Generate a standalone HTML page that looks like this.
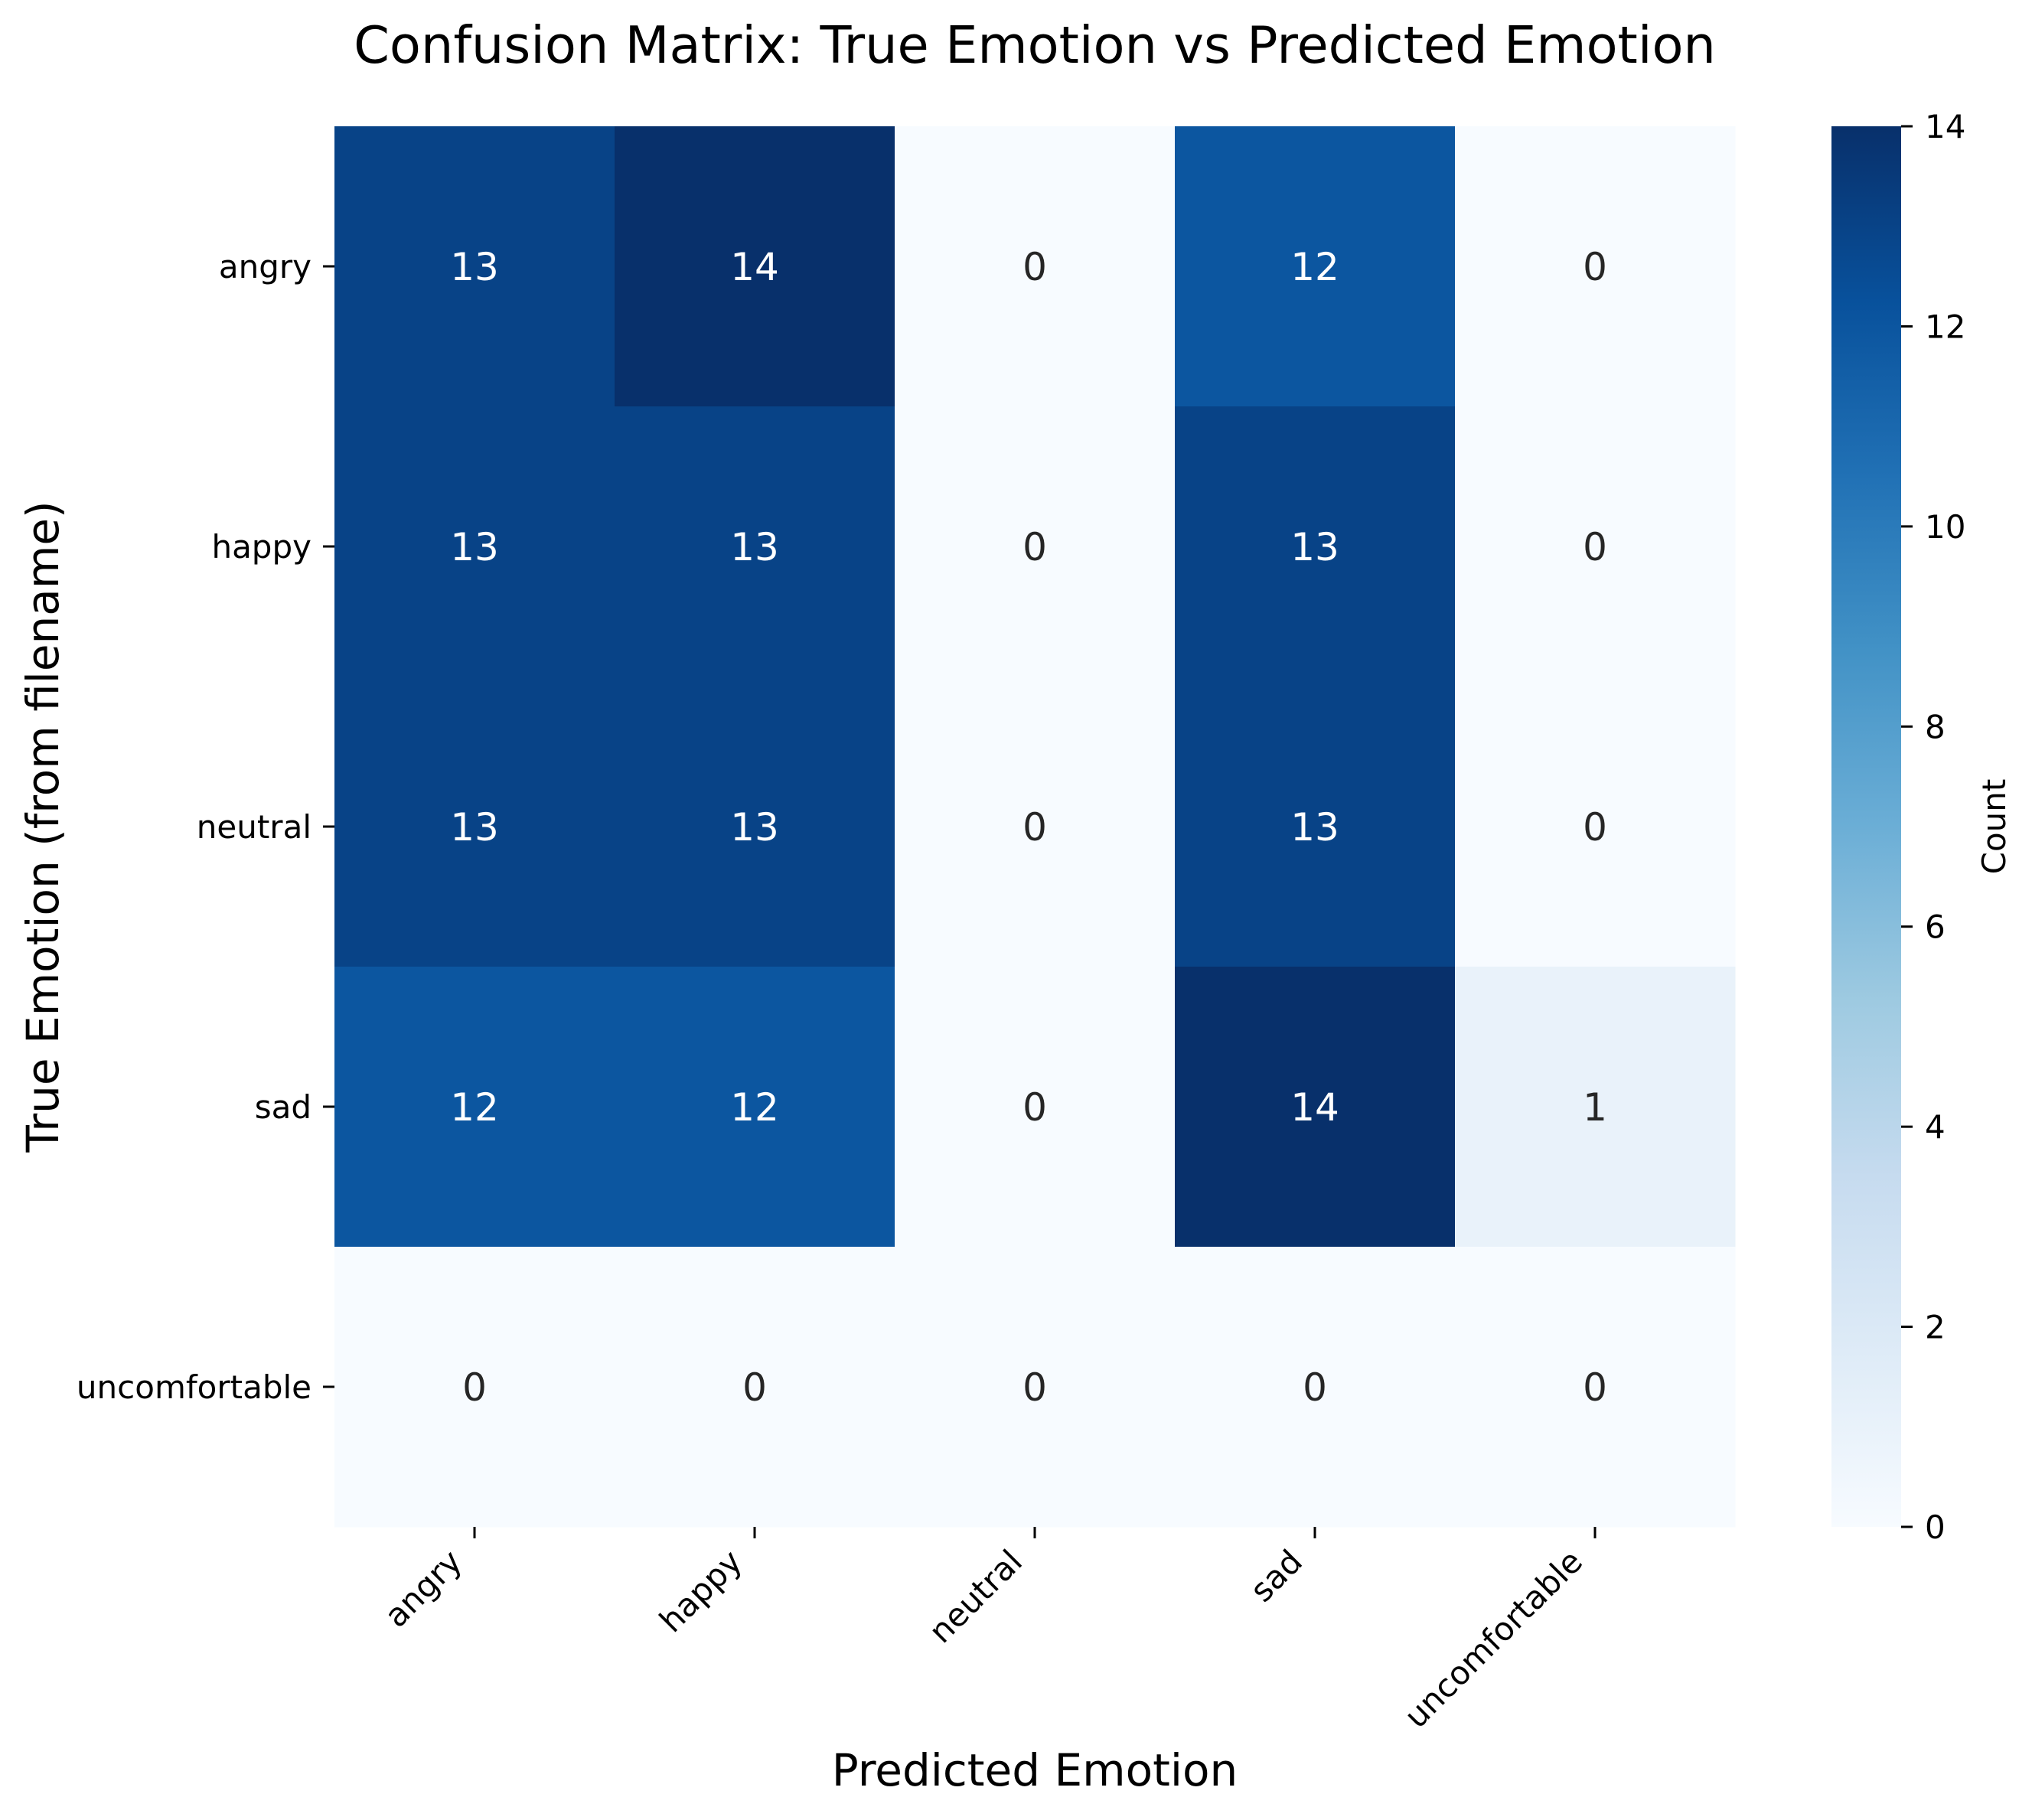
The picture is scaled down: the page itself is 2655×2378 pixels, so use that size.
<!DOCTYPE html>
<html><head><meta charset="utf-8"><style>
html,body{margin:0;padding:0;background:#fff;}
svg text{font-family:"DejaVu Sans","Liberation Sans",sans-serif;}
</style></head><body>
<svg id="chart" width="2655" height="2373" xmlns="http://www.w3.org/2000/svg">
<defs>
<linearGradient id="blues" x1="0" y1="1" x2="0" y2="0">
<stop offset="0" stop-color="#f7fbff"/><stop offset="0.125" stop-color="#deebf7"/><stop offset="0.25" stop-color="#c6dbef"/><stop offset="0.375" stop-color="#9ecae1"/><stop offset="0.5" stop-color="#6baed6"/><stop offset="0.625" stop-color="#4292c6"/><stop offset="0.75" stop-color="#2171b5"/><stop offset="0.875" stop-color="#08519c"/><stop offset="1" stop-color="#08306b"/>
</linearGradient>
</defs>
<rect width="2655" height="2373" fill="#fff"/>
<text x="1352" y="82" font-size="67" text-anchor="middle">Confusion Matrix: True Emotion vs Predicted Emotion</text>
<g id="cells"></g>
<g id="xticks"></g>
<g id="yticks"></g>
<text x="1352" y="2333" font-size="58" text-anchor="middle">Predicted Emotion</text>
<text x="0" y="0" font-size="58" text-anchor="middle" transform="translate(76,1080) rotate(-90)">True Emotion (from filename)</text>
<rect x="2393" y="165" width="91" height="1830" fill="url(#blues)"/>
<g id="cticks"></g>
<text x="0" y="0" font-size="42" text-anchor="middle" transform="translate(2620,1080) rotate(-90)">Count</text>
</svg>
<script>
const trueLabels = ["angry","happy","neutral","sad","uncomfortable"];
const predLabels = ["angry","happy","neutral","sad","uncomfortable"];
const rowAngry = [13,14,0,12,0];
const rowHappy = [13,13,0,13,0];
const rowNeutral = [13,13,0,13,0];
const rowSad = [12,12,0,14,1];
const rowUncomfortable = [0,0,0,0,0];
const colorbarTicks = [0,2,4,6,8,10,12,14];

const matrix = [rowAngry,rowHappy,rowNeutral,rowSad,rowUncomfortable];
const NS = "http://www.w3.org/2000/svg";
const L=437, T=165, W=1830, H=1830, vmin=0, vmax=14;
const xs = i => L + (i+0.5)*W/predLabels.length;
const ys = j => T + (j+0.5)*H/trueLabels.length;
const cw = W/predLabels.length, ch = H/trueLabels.length;
const stops=[[247,251,255],[222,235,247],[198,219,239],[158,202,225],[107,174,214],[66,146,198],[33,113,181],[8,81,156],[8,48,107]];
function cmap(v){let t=Math.max(0,Math.min(1,(v-vmin)/(vmax-vmin)))*8;let i=Math.min(7,Math.floor(t));let f=t-i;
 const c=stops[i].map((a,k)=>Math.round(a+(stops[i+1][k]-a)*f));return c;}
function el(tag,attrs,parent){const e=document.createElementNS(NS,tag);for(const k in attrs)e.setAttribute(k,attrs[k]);parent.appendChild(e);return e;}
const cells=document.getElementById('cells');
matrix.forEach((row,j)=>row.forEach((v,i)=>{
 const c=cmap(v);
 const r=el('rect',{x:xs(i)-cw/2,y:ys(j)-ch/2,width:cw+0.5,height:ch+0.5,fill:`rgb(${c})`},cells);
 
 
 const lum=(0.299*c[0]+0.587*c[1]+0.114*c[2])/255;
 const t=el('text',{x:xs(i),y:ys(j)+18,'font-size':50,'text-anchor':'middle',fill:lum<0.5?'#ffffff':'#262626'},cells);
 
 
 t.textContent=v;
}));
const xt=document.getElementById('xticks');
predLabels.forEach((lab,i)=>{
 const tk=el('line',{x1:xs(i),x2:xs(i),y1:T+H,y2:T+H+15,stroke:'#000','stroke-width':3},xt);
 
 
 const px=xs(i)-14, py=T+H+48;
 const t=el('text',{x:0,y:0,'font-size':42,'text-anchor':'end',transform:`translate(${px},${py}) rotate(-45)`},xt);
 
 
 t.textContent=lab;
});
const yt=document.getElementById('yticks');
trueLabels.forEach((lab,j)=>{
 const tk=el('line',{x1:L-15,x2:L,y1:ys(j),y2:ys(j),stroke:'#000','stroke-width':3},yt);
 
 
 const t=el('text',{x:L-30,y:ys(j)+15,'font-size':42,'text-anchor':'end'},yt);
 
 
 t.textContent=lab;
});
const ct=document.getElementById('cticks');
const cy=v=>T+H-(v-vmin)/(vmax-vmin)*H;
colorbarTicks.forEach(v=>{
 const tk=el('line',{x1:2484,x2:2499,y1:cy(v),y2:cy(v),stroke:'#000','stroke-width':3},ct);
 
 
 const t=el('text',{x:2515,y:cy(v)+15,'font-size':42},ct);
 
 
 t.textContent=v;
});
</script>
</body></html>
